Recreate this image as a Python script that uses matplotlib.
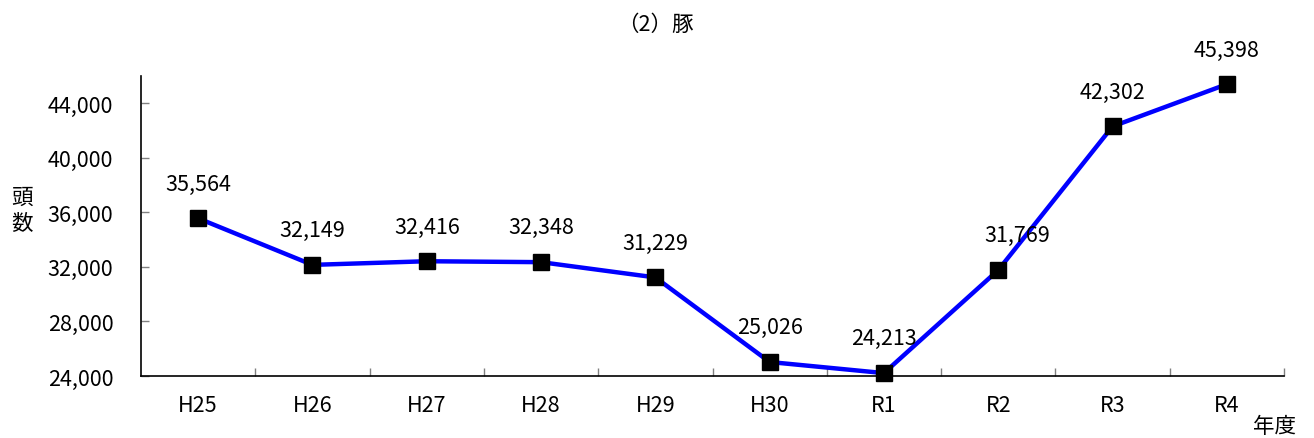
import matplotlib
matplotlib.use("Agg")
import matplotlib.pyplot as plt
from matplotlib.ticker import FuncFormatter, FixedLocator

plt.rcParams['font.family'] = ['Noto Sans CJK JP', 'DejaVu Sans']

years = ["H25", "H26", "H27", "H28", "H29", "H30", "R1", "R2", "R3", "R4"]
heads = [35564, 32149, 32416, 32348, 31229, 25026, 24213, 31769, 42302, 45398]
yticks = [24000, 28000, 32000, 36000, 40000, 44000]
title = "（2）豚"
ylabel = "頭\n数"
xlabel = "年度"

fig = plt.figure(figsize=(13.14, 4.39), dpi=100)
ax = fig.add_axes([141 / 1314, 1 - 377 / 439, (1284 - 141) / 1314, (377 - 77) / 439])

x = list(range(len(years)))
ax.plot(x, heads, color="#0000FF", linewidth=3.2, marker="s", markersize=11.5,
        markerfacecolor="black", markeredgecolor="black", zorder=3,
        clip_on=False)

# R2's label sits slightly right of its marker
label_shift = {7: 14}
for i, v in enumerate(heads):
    ax.annotate(f"{v:,}", (i, v), xytext=(label_shift.get(i, 0), 25),
                textcoords="offset points", ha="center", va="center",
                fontsize=15.5, zorder=4)

ax.set_xlim(-0.5, len(years) - 0.5)
ax.set_ylim(24000, 46000)

ax.yaxis.set_major_locator(FixedLocator(yticks))
ax.yaxis.set_major_formatter(FuncFormatter(lambda v, p: f"{int(v):,}"))
ax.tick_params(axis="y", direction="in", length=6, width=1, color="#808080",
               labelsize=15.5, pad=20)

ax.set_xticks(x)
ax.set_xticklabels(years, fontsize=15.5)
ax.tick_params(axis="x", which="major", length=0, pad=13)
ax.set_xticks([i + 0.5 for i in range(len(years))], minor=True)
ax.tick_params(axis="x", which="minor", direction="in", length=6, width=1,
               color="#808080")

for side in ("top", "right"):
    ax.spines[side].set_visible(False)
for side in ("left", "bottom"):
    ax.spines[side].set_color("black")
    ax.spines[side].set_linewidth(1.2)

fig.text(655 / 1314, 1 - 25 / 439, title, ha="center", va="center", fontsize=15.5)
fig.text(22 / 1314, 1 - 211 / 439, ylabel, ha="center", va="center", fontsize=15.5,
         linespacing=1.2)
fig.text(1275 / 1314, 1 - 427 / 439, xlabel, ha="center", va="center", fontsize=15.5)

fig.savefig("out.png", dpi=100)
